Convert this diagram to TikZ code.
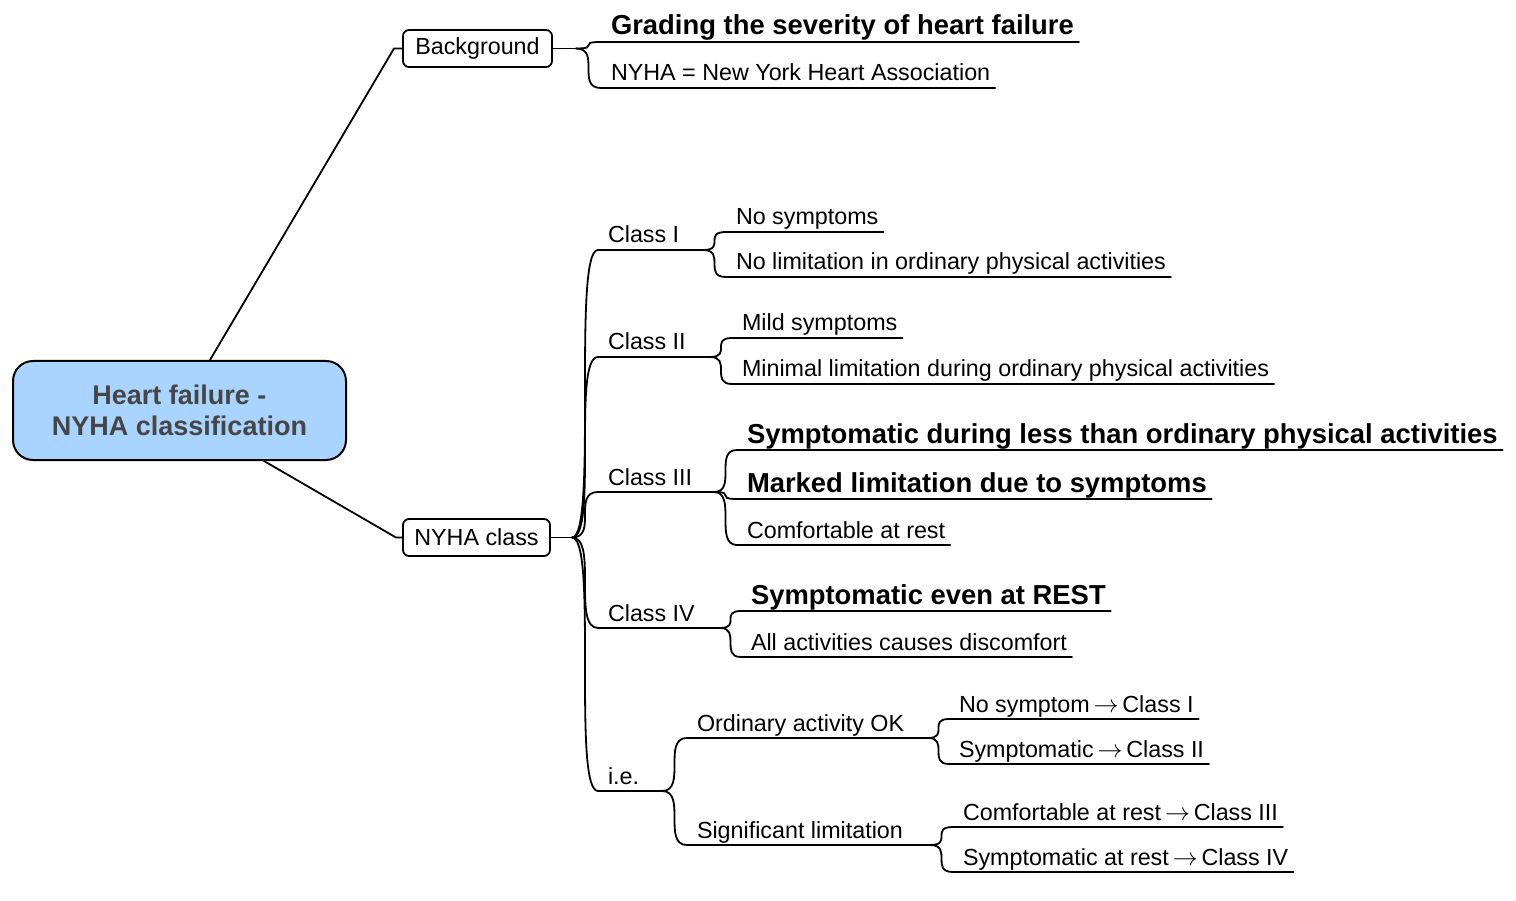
\documentclass[tikz,border=0pt]{standalone}
\usepackage{fontspec}
\setmainfont{Liberation Sans}
\definecolor{rootblue}{RGB}{168,212,255}
\definecolor{rootgray}{RGB}{70,70,70}
\newcommand\branchcurve[3]{\draw[link] (#1) .. controls +(#3,0) and +(-#3,0) .. (#2);}
\newcommand\myarrow{\,$\rightarrow$\,}
\begin{document}
\begin{tikzpicture}[x=1pt,y=-1pt,
  link/.style={line width=1.8pt, line cap=round, line join=round},
  rootbox/.style={draw, line width=2pt, rounded corners=20pt, fill=rootblue,
    minimum width=333pt, minimum height=99pt, inner sep=0pt, align=center,
    text=rootgray, font=\fontsize{27}{31}\selectfont\bfseries},
  topic/.style={draw, line width=1.8pt, rounded corners=6pt, minimum height=37pt,
    inner xsep=0pt, font=\fontsize{23.3}{28}\selectfont},
  leaf/.style={anchor=south west, inner xsep=5pt, inner ysep=7pt, text depth=0pt,
    outer sep=0pt, font=\fontsize{23.3}{28}\selectfont,
    execute at begin node={\hspace*{5pt}}},
  bleaf/.style={leaf, font=\fontsize{27.4}{32}\selectfont\bfseries}]
\useasboundingbox (0,0) rectangle (1516,901);

% main nodes
\node[rootbox] (root) at (179.5,410.5) {Heart failure -\\NYHA classification};
\node[topic, minimum width=149pt] (bg) at (477.5,48.5) {Background};
\node[topic, minimum width=147pt] (ny) at (476.5,537.5) {NYHA class};

\coordinate (bgelbow) at (394,48.5);
\coordinate (nyelbow) at (396,537.5);
\coordinate (bgj) at (576,48.5);
\coordinate (nj) at (572,537.5);

% background children
\node[bleaf] (grade) at (601,42) {Grading the severity of heart failure};
\node[leaf] (nyhadef) at (601,88) {NYHA = New York Heart Association};

% classes
\node[leaf] (c1) at (598,250) {Class I};   \coordinate (c1j) at (703,250);
\node[leaf] (c2) at (598,357) {Class II};  \coordinate (c2j) at (710,357);
\node[leaf] (c3) at (598,492) {Class III}; \coordinate (c3j) at (714,492);
\node[leaf] (c4) at (598,628) {Class IV};  \coordinate (c4j) at (720,628);
\node[leaf] (ie) at (598,791) {i.e.};      \coordinate (iej) at (662,791);

\node[leaf] (c1a) at (726,232) {No symptoms};
\node[leaf] (c1b) at (726,277) {No limitation in ordinary physical activities};
\node[leaf] (c2a) at (732,338) {Mild symptoms};
\node[leaf] (c2b) at (732,384) {Minimal limitation during ordinary physical activities};
\node[bleaf] (c3a) at (737,450) {Symptomatic during less than ordinary physical activities};
\node[bleaf] (c3b) at (737,499) {Marked limitation due to symptoms};
\node[leaf] (c3c) at (737,545) {Comfortable at rest};
\node[bleaf] (c4a) at (741,611) {Symptomatic even at REST};
\node[leaf] (c4b) at (741,657) {All activities causes discomfort};

\node[leaf] (ord) at (687,738) {Ordinary activity OK}; \coordinate (ordj) at (928,738);
\node[leaf] (sig) at (687,845) {Significant limitation}; \coordinate (sigj) at (930,845);
\node[leaf] (o1) at (949,719) {No symptom\myarrow Class I};
\node[leaf] (o2) at (949,764) {Symptomatic\myarrow Class II};
\node[leaf] (s1) at (953,827) {Comfortable at rest\myarrow Class III};
\node[leaf] (s2) at (953,872) {Symptomatic at rest\myarrow Class IV};

% root connectors
\draw[link] ([xshift=30.5pt]root.north) -- (bgelbow) -- (bg.west);
\draw[link] ([xshift=84.5pt]root.south) -- (nyelbow) -- (ny.west);
\draw[link] (bg.east) -- (bgj);
\draw[link] (ny.east) -- (nj);

% underlines
\foreach \n in {grade,nyhadef,c1a,c1b,c2a,c2b,c3a,c3b,c3c,c4a,c4b,o1,o2,s1,s2}
  \draw[link] (\n.south west) -- (\n.south east);
\draw[link] (c1.south west) -- (c1j);
\draw[link] (c2.south west) -- (c2j);
\draw[link] (c3.south west) -- (c3j);
\draw[link] (c4.south west) -- (c4j);
\draw[link] (ie.south west) -- (iej);
\draw[link] (ord.south west) -- (ordj);
\draw[link] (sig.south west) -- (sigj);

% branch curves
\branchcurve{bgj}{grade.south west}{25}
\branchcurve{bgj}{nyhadef.south west}{25}
\branchcurve{nj}{c1.south west}{26}
\branchcurve{nj}{c2.south west}{26}
\branchcurve{nj}{c3.south west}{26}
\branchcurve{nj}{c4.south west}{26}
\branchcurve{nj}{ie.south west}{26}
\branchcurve{c1j}{c1a.south west}{23}
\branchcurve{c1j}{c1b.south west}{23}
\branchcurve{c2j}{c2a.south west}{22}
\branchcurve{c2j}{c2b.south west}{22}
\branchcurve{c3j}{c3a.south west}{23}
\branchcurve{c3j}{c3b.south west}{23}
\branchcurve{c3j}{c3c.south west}{23}
\branchcurve{c4j}{c4a.south west}{21}
\branchcurve{c4j}{c4b.south west}{21}
\branchcurve{iej}{ord.south west}{25}
\branchcurve{iej}{sig.south west}{25}
\branchcurve{ordj}{o1.south west}{21}
\branchcurve{ordj}{o2.south west}{21}
\branchcurve{sigj}{s1.south west}{23}
\branchcurve{sigj}{s2.south west}{23}
\end{tikzpicture}
\end{document}
